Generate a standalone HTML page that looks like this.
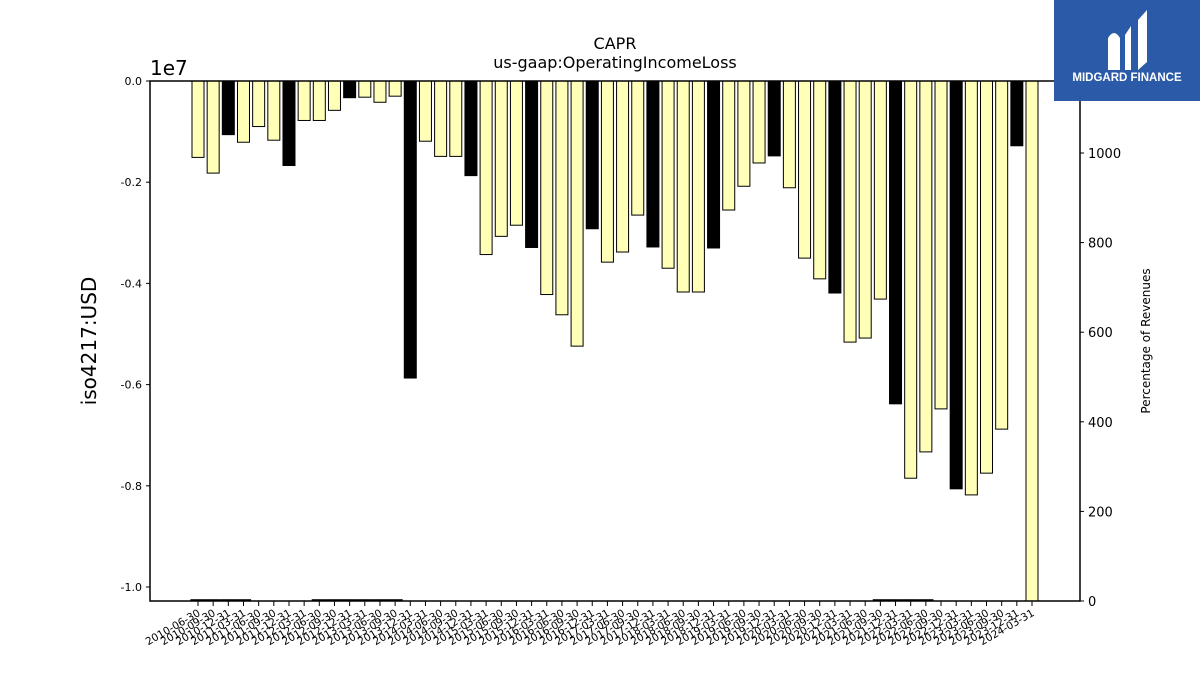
<!DOCTYPE html>
<html><head><meta charset="utf-8"><style>
body{margin:0;background:#fff;}
svg{display:block;font-family:"DejaVu Sans","Liberation Sans",sans-serif;}
</style></head><body>
<svg id="chart" width="1200" height="675">
<text x="615" y="49" font-size="16" text-anchor="middle">CAPR</text>
<text x="615" y="68" font-size="16" text-anchor="middle">us-gaap:OperatingIncomeLoss</text>
<text x="150" y="75" font-size="20">1e7</text>
<text transform="translate(96,341) rotate(-90)" font-size="20" text-anchor="middle">iso4217:USD</text>
<text transform="translate(1150,341) rotate(-90)" font-size="12" text-anchor="middle">Percentage of Revenues</text>
<g id="plot"></g>
<g>
<rect x="1054" y="0" width="146" height="101" fill="#2b5ba8"/>
<path d="M1108 70 L1108 38 Q1114 28 1120 38 L1120 70 Z M1125 70 L1125 35 L1131 26 L1131 70 Z M1138 70 L1138 20 L1147 10 L1147 62 Z" fill="#fff"/>
<text x="1127" y="81" font-size="11.5" font-weight="bold" fill="#fff" text-anchor="middle" font-family="Liberation Sans, sans-serif">MIDGARD FINANCE</text>
</g>
</svg>
<script>
const dates=[];
for(let y=2010;y<=2024;y++){for(const q of ['03-31','06-30','09-30','12-31']){const d=y+'-'+q;if(d>='2010-06-30'&&d<='2024-03-31')dates.push(d);}}
const values=[-0.151,-0.182,-0.106,-0.121,-0.090,-0.117,-0.167,-0.078,-0.078,-0.058,-0.033,-0.032,-0.042,-0.030,-0.587,-0.119,-0.149,-0.149,-0.187,-0.343,-0.307,-0.285,-0.329,-0.422,-0.462,-0.524,-0.292,-0.358,-0.338,-0.265,-0.328,-0.370,-0.417,-0.417,-0.330,-0.255,-0.208,-0.162,-0.148,-0.211,-0.350,-0.391,-0.419,-0.516,-0.508,-0.431,-0.638,-0.785,-0.733,-0.648,-0.806,-0.818,-0.775,-0.688,-0.128,-1.05];
const pct=[4,4,4,4,0,0,0,0,4,4,4,4,4,4,0,0,0,0,0,0,0,0,0,0,0,0,0,0,0,0,0,0,0,0,0,0,0,0,0,0,0,0,0,0,0,4,4,4,4,0,0,0,0,0,0,0];
const yTicks=[0,-0.2,-0.4,-0.6,-0.8,-1.0];
const y2Ticks=[0,200,400,600,800,1000];
const NS='http://www.w3.org/2000/svg';
const g=document.getElementById('plot');
const L=150,R=1080,T=81,B=601;
const x=i=>198+i*(1032-198)/55;
const y=v=>81-v*506;
const y2=v=>601-v*0.448;
function mk(t,a){const e=document.createElementNS(NS,t);for(const k in a)e.setAttribute(k,a[k]);g.appendChild(e);return e;}
const cp=mk('clipPath',{id:'cp'});cp.appendChild(Object.assign(document.createElementNS(NS,'rect'),{}));
cp.firstChild.setAttribute('x',L);cp.firstChild.setAttribute('y',T);cp.firstChild.setAttribute('width',R-L);cp.firstChild.setAttribute('height',B-T);
values.forEach((v,i)=>{
 const black=(i%4===2);
 const r=mk('rect',{x:x(i)-6,y:T,width:12,height:Math.max(0,y(v)-T),fill:black?'#000':'#ffffb8',stroke:'#000','stroke-width':1,'clip-path':'url(#cp)'});
 
 
});
pct.forEach((p,i)=>{if(p<=0)return;
 const r=mk('rect',{x:x(i)-7.6,y:y2(p),width:15.2,height:B-y2(p),fill:'#000'});
 
 
});
const frame=mk('rect',{x:L,y:T,width:R-L,height:B-T,fill:'none',stroke:'#000','stroke-width':1.5});


yTicks.forEach(v=>{mk('line',{x1:L-4,x2:L,y1:y(v),y2:y(v),stroke:'#000'});
 const t=mk('text',{x:L-8,y:y(v)+4,'font-size':11,'text-anchor':'end'});t.textContent=v.toFixed(1);
 
 });
y2Ticks.forEach(v=>{mk('line',{x1:R,x2:R+4,y1:y2(v),y2:y2(v),stroke:'#000'});
 const t=mk('text',{x:R+8,y:y2(v)+5,'font-size':13});t.textContent=v;
 
 });
dates.forEach((d,i)=>{mk('line',{x1:x(i),x2:x(i),y1:B,y2:B+5,stroke:'#000'});
 const t=mk('text',{transform:`translate(${x(i)+3},${B+14}) rotate(-30)`,'font-size':10.5,'text-anchor':'end'});t.textContent=d;
 
 });
</script>
</body></html>
